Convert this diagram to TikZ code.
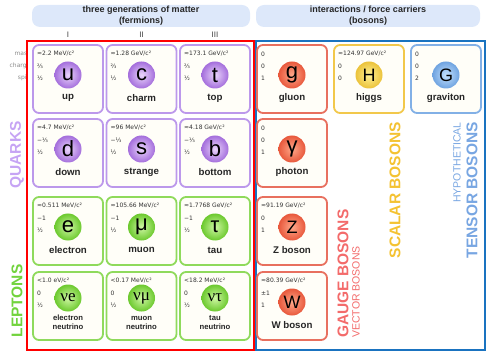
\documentclass[tikz,border=0pt]{standalone}
\usepackage{fontspec}
\setmainfont{Liberation Sans}
\newfontfamily\propfont{DejaVu Sans}
\newfontfamily\nufont{Liberation Serif}
\usetikzlibrary{positioning}

\definecolor{headbg}{HTML}{DDE8FA}
\definecolor{cardbg}{HTML}{FFFEF8}
\definecolor{quarkline}{HTML}{BC98EB}
\definecolor{quarkin}{HTML}{EBD6FC}
\definecolor{quarkout}{HTML}{A46EDC}
\definecolor{quarktext}{HTML}{C6A4F4}
\definecolor{leptonline}{HTML}{8FDA5C}
\definecolor{leptonin}{HTML}{CFF7A4}
\definecolor{leptonout}{HTML}{6CC92E}
\definecolor{leptontext}{HTML}{72D33D}
\definecolor{gaugeline}{HTML}{E8705F}
\definecolor{gaugein}{HTML}{FFA88A}
\definecolor{gaugeout}{HTML}{E8583C}
\definecolor{gaugetext}{HTML}{F36B6B}
\definecolor{higgsline}{HTML}{F2C84B}
\definecolor{higgsin}{HTML}{FFF294}
\definecolor{higgsout}{HTML}{EBC23A}
\definecolor{higgstext}{HTML}{F4C232}
\definecolor{gravline}{HTML}{82B0E6}
\definecolor{gravin}{HTML}{C4E2FF}
\definecolor{gravout}{HTML}{6FA3E0}
\definecolor{gravtext}{HTML}{78A6E2}
\definecolor{fermionbox}{HTML}{FF0000}
\definecolor{bosonbox}{HTML}{1A73C0}

\tikzset{
	card/.style={draw=#1, line width=1.8pt, rounded corners=6pt, fill=cardbg},
	prop/.style={anchor=west, inner sep=0pt, font=\propfont\fontsize{6}{6}\selectfont, text=black!80},
	pname/.style={inner sep=0pt, align=center, font=\bfseries\namesize, text=black!85},
	sym/.style={inner sep=0pt, font=\fontsize{22}{22}\selectfont},
	header/.style={fill=headbg, rounded corners=8pt},
	headtext/.style={align=center, font=\bfseries\fontsize{9}{11}\selectfont, text=black!85},
	bigside/.style={rotate=90, inner sep=0pt, font=\bfseries\fontsize{15.5}{16}\selectfont},
	smallside/.style={rotate=90, inner sep=0pt, font=\fontsize{10.5}{11}\selectfont},
	legend/.style={anchor=east, inner sep=0pt, font=\propfont\fontsize{6}{6}\selectfont, text=black!45},
	gen/.style={font=\fontsize{8}{8}\selectfont, text=black!75},
}

\newcommand{\symy}{30}
\newcommand{\namey}{53}
\newcommand{\namesize}{\fontsize{9.7}{11}\selectfont}
\newcommand{\upsym}{\fontsize{18}{18}\selectfont}
% id, x, y, family, symbol, name, mass, charge, spin
\newcommand{\particle}[9]{
	\draw[card=#4line] (#2,#3) rectangle ++(70,68);
	\shade[inner color=#4in, outer color=#4out] (#2+35,#3+\symy) circle (13.5);
	\node[sym] (#1) at (#2+35,#3+\symy) {#5};
	\node[pname] (#1-name) at (#2+35,#3+\namey) {#6};
	\node[prop] (#1-mass) at (#2+4,#3+9) {#7};
	\node[prop] (#1-charge) at (#2+4,#3+21) {#8};
	\node[prop] (#1-spin) at (#2+4,#3+33) {#9};
}

\begin{document}
\begin{tikzpicture}[x=1pt, y=-1pt]
	\useasboundingbox (0,0) rectangle (486,352);
	
	\fill[header] (32,5) rectangle (250,27);
	\node[headtext] (matter) at (141,16) {three generations of matter\\(fermions)};
	\fill[header] (256,5) rectangle (480,27);
	\node[headtext] (carriers) at (368,16) {interactions / force carriers\\(bosons)};
	
	\node[gen] (gen1) at (68,35) {I};
	\node[gen] (gen2) at (141.5,35) {II};
	\node[gen] (gen3) at (215,35) {III};
	
	\begin{scope}
		\clip (0,45) rectangle (26,90);
		\node[legend] (mass) at (30.5,54) {mass};
		\node[legend] (charge) at (30.5,66) {charge};
		\node[legend] (spin) at (30.5,78) {spin};
	\end{scope}
	
	\draw[fermionbox, line width=2pt] (27,41) rectangle (254,350);
	\draw[bosonbox, line width=2pt] (256,41) rectangle (484.5,350);
	
	\particle{u}{33}{45}{quark}{u}{up}{≈2.2 MeV/c²}{⅔}{½}
	\particle{c}{106.5}{45}{quark}{c}{charm}{≈1.28 GeV/c²}{⅔}{½}
	\particle{t}{180}{45}{quark}{t}{top}{≈173.1 GeV/c²}{⅔}{½}
	\particle{d}{33}{119}{quark}{d}{down}{≈4.7 MeV/c²}{−⅓}{½}
	\particle{s}{106.5}{119}{quark}{s}{strange}{≈96 MeV/c²}{−⅓}{½}
	\particle{b}{180}{119}{quark}{b}{bottom}{≈4.18 GeV/c²}{−⅓}{½}
	\particle{e}{33}{197}{lepton}{e}{electron}{≈0.511 MeV/c²}{−1}{½}
	\particle{mu}{106.5}{197}{lepton}{μ}{muon}{≈105.66 MeV/c²}{−1}{½}
	\particle{tau}{180}{197}{lepton}{τ}{tau}{≈1.7768 GeV/c²}{−1}{½}
	{
		\renewcommand{\symy}{26}
		\renewcommand{\namey}{50.5}
		\renewcommand{\namesize}{\fontsize{7.7}{9}\selectfont}
		\particle{nue}{33}{272}{lepton}{\nufont\fontsize{17}{17}\selectfont νe}{electron\\neutrino}{<1.0 eV/c²}{0}{½}
		\particle{numu}{106.5}{272}{lepton}{\nufont\fontsize{17}{17}\selectfont νμ}{muon\\neutrino}{<0.17 MeV/c²}{0}{½}
		\particle{nutau}{180}{272}{lepton}{\nufont\fontsize{17}{17}\selectfont ντ}{tau\\neutrino}{<18.2 MeV/c²}{0}{½}
	}
	
	\particle{g}{257}{45}{gauge}{g}{gluon}{0}{0}{1}
	\particle{gamma}{257}{119}{gauge}{γ}{photon}{0}{0}{1}
	\particle{Z}{257}{197}{gauge}{\upsym Z}{Z boson}{≈91.19 GeV/c²}{0}{1}
	\particle{W}{257}{272}{gauge}{\upsym W}{W boson}{≈80.39 GeV/c²}{±1}{1}
	\particle{H}{334}{45}{higgs}{\upsym H}{higgs}{≈124.97 GeV/c²}{0}{0}
	\particle{G}{411}{45}{grav}{\upsym G}{graviton}{0}{0}{2}
	
	\node[bigside, text=quarktext] (quarks) at (17,155) {QUARKS};
	\node[bigside, text=leptontext] (leptons) at (17,301) {LEPTONS};
	\node[bigside, text=gaugetext, anchor=west] (gauge) at (343,338) {GAUGE BOSONS};
	\node[smallside, text=gaugetext, anchor=west] (vector) at (356,338) {VECTOR BOSONS};
	\node[bigside, text=higgstext, anchor=east] (scalar) at (395,122) {SCALAR BOSONS};
	\node[smallside, text=gravtext, anchor=east] (hypo) at (457,122) {HYPOTHETICAL};
	\node[bigside, text=gravtext, anchor=east] (tensor) at (472,122) {TENSOR BOSONS};
\end{tikzpicture}
\end{document}
